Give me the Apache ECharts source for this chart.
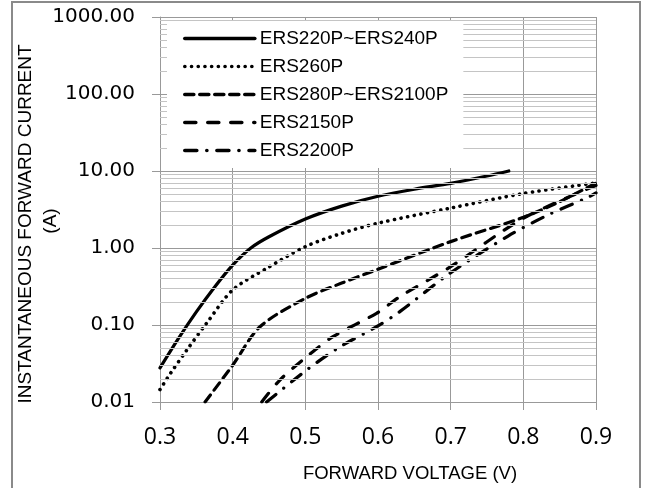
<!DOCTYPE html>
<html>
<head>
<meta charset="utf-8">
<script src="https://cdn.jsdelivr.net/npm/echarts@6/dist/echarts.min.js"></script>
<style>html,body{margin:0;padding:0;background:#fff;}#c{width:648px;height:488px;}</style>
</head>
<body>
<div id="c"></div>
<script>
// ---- data ----
const seriesNames = ['ERS220P~ERS240P', 'ERS260P', 'ERS280P~ERS2100P', 'ERS2150P', 'ERS2200P'];

const v220 = [0.30, 0.325, 0.35, 0.375, 0.40, 0.425, 0.45, 0.50, 0.55, 0.60, 0.65, 0.70, 0.75, 0.78];
const i220 = [0.0277, 0.066, 0.148, 0.31, 0.60, 1.0, 1.40, 2.38, 3.5, 4.7, 5.8, 6.9, 8.6, 10.0];

const v260 = [0.30, 0.3137, 0.3367, 0.364, 0.40, 0.447, 0.50, 0.55, 0.60, 0.70, 0.80, 0.90];
const i260 = [0.0145, 0.023, 0.047, 0.105, 0.285, 0.545, 1.04, 1.55, 2.1, 3.3, 5.1, 7.0];

const v280 = [0.362, 0.40, 0.4376, 0.50, 0.55, 0.60, 0.70, 0.80, 0.85, 0.90];
const i280 = [0.01, 0.030, 0.095, 0.222, 0.35, 0.53, 1.21, 2.5, 4.0, 7.0];

const v2150 = [0.44, 0.465, 0.502, 0.538, 0.598, 0.63, 0.70, 0.80, 0.90];
const i2150 = [0.01, 0.0193, 0.0388, 0.0705, 0.142, 0.233, 0.573, 2.43, 6.5];

const v2200 = [0.4467, 0.5018, 0.5476, 0.598, 0.63, 0.699, 0.779, 0.834, 0.889, 0.90];
const i2200 = [0.01, 0.026, 0.052, 0.095, 0.149, 0.47, 1.43, 2.69, 4.55, 5.2];

const xTickMin = 0.3, xTickMax = 0.9, xTickStep = 0.1;
const yTickMin = 0.01, yTickMax = 1000;
const minorMultipliers = [2, 3, 4, 5, 6, 7, 8, 9];
const minorDecades = [0.01, 0.1, 1, 10, 100];

const xTitle = 'FORWARD VOLTAGE (V)';
const yTitle1 = 'INSTANTANEOUS FORWARD CURRENT';
const yTitle2 = '(A)';

// ---- build ----
const zip = (xs, ys) => xs.map((x, k) => [x, ys[k]]);
const minorValues = [];
minorDecades.forEach(d => minorMultipliers.forEach(m => minorValues.push(+(d * m).toPrecision(3))));

const lineStyles = [
  { type: 'solid', cap: 'round', width: 3.2 },
  { type: [0.1, 6.6], cap: 'round', width: 3.6 },
  { type: [9, 6], cap: 'round', width: 3.2 },
  { type: [11, 12], cap: 'round', width: 3.2 },
  { type: [12, 10, 0.1, 10], cap: 'round', width: 3.2 }
];
const datasets = [zip(v220, i220), zip(v260, i260), zip(v280, i280), zip(v2150, i2150), zip(v2200, i2200)];

const series = [{
  name: 'minor', type: 'line', data: [], silent: true, z: 1,
  markLine: {
    silent: true, symbol: 'none', animation: false,
    label: { show: false },
    lineStyle: { color: '#c4c4c4', type: 'solid', width: 1 },
    data: minorValues.map(v => ({ yAxis: v }))
  }
}];
seriesNames.forEach((n, k) => {
  series.push({
    name: n, type: 'line', data: datasets[k], symbol: 'none', showSymbol: false,
    smooth: 0.3, z: 3,
    lineStyle: Object.assign({ color: '#000' }, lineStyles[k]),
    itemStyle: { color: '#000' }
  });
});

const chart = echarts.init(document.getElementById('c'), null, { renderer: 'canvas' });
chart.setOption({
  animation: false,
  backgroundColor: '#fff',
  grid: { left: 160, right: 52, top: 17, bottom: 86, containLabel: false },
  xAxis: {
    type: 'value', min: xTickMin, max: xTickMax, interval: xTickStep,
    axisLine: { show: true, lineStyle: { color: '#999', width: 1 } },
    axisTick: { show: true, length: 8, inside: false, lineStyle: { color: '#999' } },
    splitLine: { show: true, lineStyle: { color: '#999', width: 1 } },
    axisLabel: {
      margin: 24, color: '#000', fontFamily: 'Open Sans', fontSize: 23,
      formatter: v => v.toFixed(1)
    }
  },
  yAxis: {
    type: 'log', logBase: 10, min: yTickMin, max: yTickMax, splitNumber: 5,
    axisLine: { show: true, lineStyle: { color: '#999', width: 1 } },
    axisTick: { show: true, length: 8, inside: false, lineStyle: { color: '#999' } },
    splitLine: { show: true, lineStyle: { color: '#999', width: 1 } },
    axisLabel: {
      margin: 25, color: '#000', fontFamily: 'DejaVu Sans', fontSize: 20,
      formatter: v => Number(v).toFixed(2)
    }
  },
  legend: {
    orient: 'vertical', left: 167, top: 21,
    padding: [8, 15, 8, 16],
    itemWidth: 70, itemHeight: 14, itemGap: 9,
    backgroundColor: '#fff',
    data: seriesNames,
    itemStyle: { opacity: 0 },
    lineStyle: { width: 3.6 },
    textStyle: { fontFamily: 'Liberation Sans', fontSize: 19, color: '#000' },
    z: 10
  },
  graphic: [
    { type: 'rect', silent: true, z: 0,
      shape: { x: 12, y: 2, width: 628, height: 500 },
      style: { fill: 'none', stroke: '#8a8a8a', lineWidth: 2 } },
    { type: 'text', silent: true, x: 26, y: 224, rotation: Math.PI / 2,
      style: { text: yTitle1, fontFamily: 'Liberation Sans', fontSize: 19, fill: '#000',
               textAlign: 'center', textVerticalAlign: 'middle' } },
    { type: 'text', silent: true, x: 51, y: 221, rotation: Math.PI / 2,
      style: { text: yTitle2, fontFamily: 'Liberation Sans', fontSize: 19, fill: '#000',
               textAlign: 'center', textVerticalAlign: 'middle' } },
    { type: 'text', silent: true, x: 410, y: 474,
      style: { text: xTitle, fontFamily: 'Liberation Sans', fontSize: 18.5, fill: '#000',
               textAlign: 'center', textVerticalAlign: 'middle' } }
  ],
  series: series
});
</script>
</body>
</html>
